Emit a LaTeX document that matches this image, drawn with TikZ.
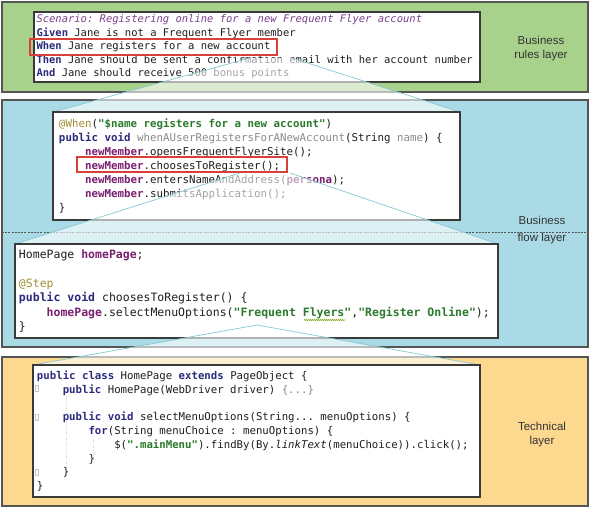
\documentclass[tikz,border=0pt]{standalone}
\usepackage{fontspec}
\setmonofont{DejaVu Sans Mono}
\newfontfamily\layerfont{Liberation Sans}
\usepackage{xcolor}
\usetikzlibrary{decorations.pathmorphing}
\definecolor{rulesgreen}{HTML}{A8D18C}
\definecolor{flowblue}{HTML}{AADAE5}
\definecolor{techyellow}{HTML}{FCD98F}
\definecolor{layerborder}{HTML}{555555}
\definecolor{boxborder}{HTML}{3A3A3A}
\definecolor{codeblack}{HTML}{1E1E1E}
\definecolor{kwblue}{HTML}{2B2A7C}
\definecolor{mbrpurple}{HTML}{7A1F70}
\definecolor{strgreen}{HTML}{2A7A2C}
\definecolor{annolive}{HTML}{A08E32}
\definecolor{scenpurple}{HTML}{7B3F8E}
\definecolor{codegray}{HTML}{8A8A8A}
\definecolor{hlred}{HTML}{D8403A}
\definecolor{funnelline}{HTML}{86C7D2}
\definecolor{labelgray}{HTML}{333333}
\newcommand{\kw}[1]{\textbf{\textcolor{kwblue}{#1}}}
\newcommand{\mbr}[1]{\textbf{\textcolor{mbrpurple}{#1}}}
\newcommand{\strg}[1]{\textbf{\textcolor{strgreen}{#1}}}
\newcommand{\ann}[1]{\textcolor{annolive}{#1}}
\newcommand{\faint}[1]{\textcolor{codegray}{#1}}
\newcommand{\ind}[1]{\hspace*{#1\fontcharwd\font`0}}
\newcommand{\codefont}[2]{\ttfamily\fontsize{#1}{#2}\selectfont}
\tikzset{
  layer/.style={draw=layerborder, line width=1.2pt, anchor=north west, inner sep=0pt, outer sep=0pt},
  codebox/.style={draw=boxborder, line width=1.1pt, fill=white, anchor=north west, align=flush left,
    inner ysep=0pt, outer sep=0pt, text=codeblack,
    execute at begin node={\spaceskip=\fontcharwd\font`0\relax\xspaceskip=\spaceskip}},
  hlbox/.style={draw=hlred, line width=1.1pt, anchor=north west, inner sep=0pt, outer sep=0pt},
  funnel/.style={fill=white, fill opacity=0.6},
  funneledge/.style={draw=funnelline, line width=0.7pt},
  layerlabel/.style={font=\layerfont\fontsize{11.5}{14}\selectfont, text=labelgray, align=center},
}

\begin{document}
\begin{tikzpicture}[x=1pt, y=-1pt]
  \useasboundingbox (0,0) rectangle (590,509);
  \fill[white] (0,0) rectangle (590,509);

  \node[layer, fill=rulesgreen, minimum width=586, minimum height=90] (rules) at (2,2) {};
  \node[layer, fill=flowblue, minimum width=586, minimum height=247] (flow) at (2,100) {};
  \node[layer, fill=techyellow, minimum width=586, minimum height=149] (tech) at (2,357) {};
  \draw[layerborder, line width=0.8pt, dash pattern=on 2pt off 1.2pt] (2,232) -- (588,232);

  \node[layerlabel] (ruleslbl) at (541,49) {Business\\rules layer};
  \node[layerlabel] (flowlbl) at (542,230.5) {Business\\[3pt]flow layer};
  \node[layerlabel] (techlbl) at (542,435) {Technical\\layer};

  \node[codebox, minimum width=446, minimum height=70, text width=441, inner xsep=2.5pt,
        font=\codefont{10.5}{13.5}] (gherkin) at (34,12) {%
    \textit{\textcolor{scenpurple}{Scenario: Registering online for a new Frequent Flyer account}}\\
    \kw{Given} Jane is not a Frequent Flyer member\\
    \kw{When} Jane registers for a new account\\
    \kw{Then} Jane should be sent a confirmation email with her account number\\
    \kw{And} Jane should receive 500 bonus points};
  \node[hlbox, minimum width=247, minimum height=16] (hlwhen) at (30,39) {};

  \coordinate (f1l) at (250,58);
  \coordinate (f1r) at (292,58);
  \coordinate (f2l) at (240,173);
  \coordinate (f2r) at (290,173);
  \coordinate (f3) at (257,325);

  \node[codebox, minimum width=407, minimum height=108, text width=395, inner xsep=6pt] (stepdef) at (53,112) {};
  \fill[funnel] (f1l) -- (f1r) -- (stepdef.north east) -- (stepdef.north west) -- cycle;
  \draw[funneledge] (f1l) -- (stepdef.north west);
  \draw[funneledge] (f1r) -- (stepdef.north east);
  \node[codebox, minimum width=407, minimum height=108, text width=395, inner xsep=6pt,
        font=\codefont{10.8}{14}] (stepdef) at (53,112) {%
    \ann{@When}(\strg{"\$name registers for a new account"})\\
    \kw{public void} \faint{whenAUserRegistersForANewAccount}(String \faint{name}) \{\\
    \ind{4}\mbr{newMember}.opensFrequentFlyerSite();\\
    \ind{4}\mbr{newMember}.choosesToRegister();\\
    \ind{4}\mbr{newMember}.entersNameAndAddress(\mbr{persona});\\
    \ind{4}\mbr{newMember}.submitsApplication();\\
    \}};
  \node[hlbox, minimum width=210, minimum height=15] (hlchoose) at (77,157) {};

  \node[codebox, minimum width=483, minimum height=94, text width=475, inner xsep=4pt] (steplib) at (15,244) {};
  \fill[funnel] (f2l) -- (f2r) -- (steplib.north east) -- (steplib.north west) -- cycle;
  \draw[funneledge] (f2l) -- (steplib.north west);
  \draw[funneledge] (f2r) -- (steplib.north east);
  \node[codebox, minimum width=483, minimum height=94, text width=475, inner xsep=4pt,
        font=\codefont{11.5}{14.5}] (steplib) at (15,244) {%
    HomePage \mbr{homePage};\\[14.5pt]
    \ann{@Step}\\
    \kw{public void} choosesToRegister() \{\\
    \ind{4}\mbr{homePage}.selectMenuOptions(\strg{"Frequent Flyers"},\strg{"Register Online"});\\
    \}};
  \draw[strgreen!60!yellow, line width=0.6pt, decorate, decoration={snake, amplitude=0.6pt, segment length=2pt}]
    (304,320) -- (345,320);

  \node[codebox, minimum width=447, minimum height=132, text width=439, inner xsep=4pt] (pageobj) at (33,365) {};
  \fill[funnel] (f3) -- (pageobj.north east) -- (pageobj.north west) -- cycle;
  \draw[funneledge] (f3) -- (pageobj.north west);
  \draw[funneledge] (f3) -- (pageobj.north east);
  \node[codebox, minimum width=447, minimum height=132, text width=439, inner xsep=4pt,
        font=\codefont{10.7}{13.8}] (pageobj) at (33,365) {%
    \kw{public class} HomePage \kw{extends} PageObject \{\\
    \ind{4}\kw{public} HomePage(WebDriver driver) \faint{\{...\}}\\[13.8pt]
    \ind{4}\kw{public void} selectMenuOptions(String... menuOptions) \{\\
    \ind{8}\kw{for}(String menuChoice : menuOptions) \{\\
    \ind{12}\$(\strg{".mainMenu"}).findBy(By.\textit{linkText}(menuChoice)).click();\\
    \ind{8}\}\\
    \ind{4}\}\\
    \}};
  \foreach \fy in {388,417,472}
    \draw[gray!45, line width=0.4pt] (35,\fy-3) rectangle (38,\fy+3);
  \draw[gray!35, dotted] (66,396) -- (66,466);
  \draw[gray!35, dotted] (93,440) -- (93,458);
\end{tikzpicture}
\end{document}
